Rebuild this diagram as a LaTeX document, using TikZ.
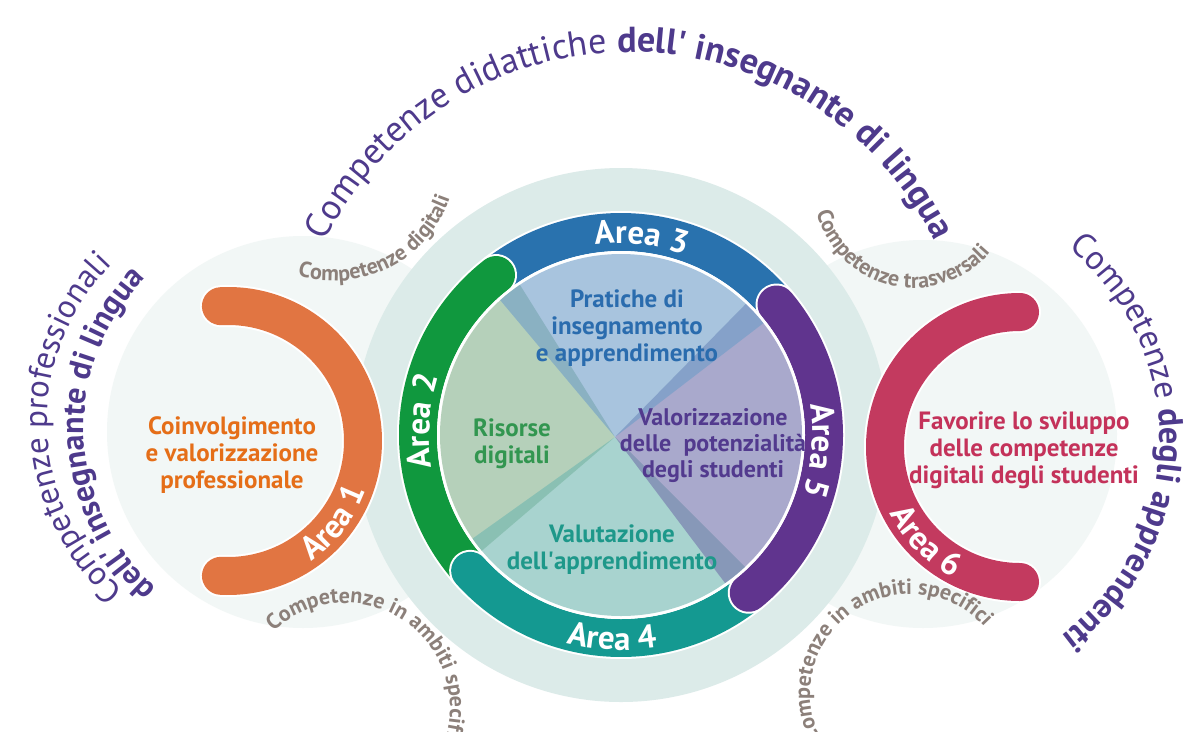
\documentclass[tikz,border=0pt]{standalone}
\usepackage{fontspec}
\setmainfont{PT Sans}
\usetikzlibrary{decorations.text}

\definecolor{ink}{RGB}{78,58,140}
\definecolor{greyl}{RGB}{140,128,122}
\definecolor{cOrange}{RGB}{225,117,66}
\definecolor{tOrange}{RGB}{229,110,24}
\definecolor{cGreen}{RGB}{16,152,62}
\definecolor{tGreen}{RGB}{50,150,80}
\definecolor{cBlue}{RGB}{41,114,174}
\definecolor{tBlue}{RGB}{42,108,174}
\definecolor{cTeal}{RGB}{20,153,145}
\definecolor{tTeal}{RGB}{30,152,138}
\definecolor{cPurple}{RGB}{96,52,142}
\definecolor{tPurple}{RGB}{82,58,142}
\definecolor{cPink}{RGB}{195,58,95}
\definecolor{tPink}{RGB}{196,50,90}
\definecolor{pale}{RGB}{242,247,246}
\definecolor{halo}{RGB}{220,235,233}
\definecolor{qBlue}{RGB}{110,157,200}
\definecolor{qGreen}{RGB}{132,177,140}
\definecolor{qTeal}{RGB}{110,182,175}
\definecolor{qLav}{RGB}{113,113,170}

\newcommand\FTop{\fontsize{36}{36}\selectfont\color{ink}}
\newcommand\FTopB{\fontsize{36}{36}\selectfont\bfseries\color{ink}}
\newcommand\FSide{\fontsize{33}{33}\selectfont\color{ink}}
\newcommand\FSideB{\fontsize{32}{32}\selectfont\bfseries\color{ink}}
\newcommand\FRight{\fontsize{34}{34}\selectfont\color{ink}}
\newcommand\FRightB{\fontsize{34}{34}\selectfont\bfseries\color{ink}}
\newcommand\FGrey{\fontsize{22}{22}\selectfont\bfseries\color{greyl}}
\newcommand\FArea{\fontsize{33}{33}\selectfont\bfseries\color{white}}

\tikzset{
  arcw/.style={white, line width=42pt},
  arcc/.style={line width=38pt},
  inner/.style={align=center, font=\fontsize{25}{27}\selectfont\bfseries},
  wedge/.style={fill opacity=0.6},
}

\begin{document}
\begin{tikzpicture}[x=1pt,y=1pt]
\useasboundingbox (0,-731) rectangle (1188,0);
\fill[white] (0,-731) rectangle (1188,0);

\coordinate (C) at (621,-435);
\coordinate (X) at (615,-437);
\coordinate (LC) at (303,-432);
\coordinate (RC) at (923,-434);
\coordinate (OC) at (228,-441);
\coordinate (PC) at (1020,-447);
\coordinate (TC) at (630,-392);
\coordinate (SL) at (270,-422);
\coordinate (SLi) at (297,-428);
\coordinate (SR) at (915,-439);
\coordinate (G1) at (333.5,-158);
\coordinate (G2) at (345,-708);
\coordinate (G3) at (913.6,-188);
\coordinate (G4) at (910,-694);

% background circles
\fill[pale] (LC) circle[radius=196pt];
\fill[pale] (RC) circle[radius=194pt];
\fill[halo] (C) circle[radius=267pt];

% side arcs
\draw[arcw, line cap=round] (OC) ++(93:135pt) arc[start angle=93, end angle=-93, radius=135pt];
\draw[arcc, cOrange, line cap=round] (OC) ++(93:135pt) arc[start angle=93, end angle=-93, radius=135pt];
\draw[arcw, line cap=round] (PC) ++(90:135pt) arc[start angle=90, end angle=270, radius=135pt];
\draw[arcc, cPink, line cap=round] (PC) ++(90:135pt) arc[start angle=90, end angle=270, radius=135pt];

% ring
\draw[arcw] (C) ++(128:203pt) arc[start angle=128, end angle=40, radius=203pt];
\draw[arcc, cBlue] (C) ++(128:203pt) arc[start angle=128, end angle=40, radius=203pt];
\draw[arcw, line cap=round] (C) ++(128:203pt) arc[start angle=128, end angle=226, radius=203pt];
\draw[arcc, cGreen, line cap=round] (C) ++(128:203pt) arc[start angle=128, end angle=226, radius=203pt];
\draw[arcw, line cap=round] (C) ++(222:203pt) arc[start angle=222, end angle=309, radius=203pt];
\draw[arcc, cTeal, line cap=round] (C) ++(222:203pt) arc[start angle=222, end angle=309, radius=203pt];
\draw[arcw, line cap=round] (C) ++(40:203pt) arc[start angle=40, end angle=-51, radius=203pt];
\draw[arcc, cPurple, line cap=round] (C) ++(40:203pt) arc[start angle=40, end angle=-51, radius=203pt];

% inner disc
\fill[white] (C) circle[radius=184pt];
\begin{scope}
\clip (C) circle[radius=181pt];
\fill[qGreen, wedge] (X) -- ++(122:300pt) arc[start angle=122, end angle=220.5, radius=300pt] -- cycle;
\fill[qTeal, wedge] (X) -- ++(215.5:300pt) arc[start angle=215.5, end angle=315, radius=300pt] -- cycle;
\fill[qLav, wedge] (X) -- ++(307:300pt) arc[start angle=307, end angle=405.5, radius=300pt] -- cycle;
\fill[qBlue, wedge] (X) -- ++(37.5:300pt) arc[start angle=37.5, end angle=130, radius=300pt] -- cycle;
\end{scope}

% inner texts
\node[inner, text=tBlue] (t3) at (627,-328) {Pratiche di\\insegnamento\\e apprendimento};
\node[inner, text=tGreen] (t2) at (512,-444) {Risorse\\digitali};
\node[inner, text=tPurple, font=\fontsize{24}{26}\selectfont\bfseries] (t5) at (713,-446) {Valorizzazione\\delle\ \ potenzialità\\degli studenti};
\node[inner, text=tTeal] (t4) at (612,-550) {Valutazione\\dell\textquotesingle apprendimento};
\node[inner, text=tOrange] (t1) at (232,-455) {Coinvolgimento\\e valorizzazione\\professionale};
\node[inner, text=tPink] (t6) at (1024,-450) {Favorire lo sviluppo\\delle competenze\\digitali degli studenti};

% area labels
\path[decorate, decoration={text along path, text align=center, text={|\FArea|Area 1}}]
  (OC) ++(-80:146.5pt) arc[start angle=-80, end angle=5, radius=146.5pt];
\path[decorate, decoration={text along path, text align=center, text={|\FArea|Area 2}}]
  (C) ++(216:191.5pt) arc[start angle=216, end angle=136, radius=191.5pt];
\path[decorate, decoration={text along path, text align=center, text={|\FArea|Area 3}}]
  (C) ++(124:191.5pt) arc[start angle=124, end angle=44, radius=191.5pt];
\path[decorate, decoration={text along path, text align=center, text={|\FArea|Area 4}}]
  (C) ++(227.5:215pt) arc[start angle=227.5, end angle=307.5, radius=215pt];
\path[decorate, decoration={text along path, text align=center, text={|\FArea|Area 5}}]
  (C) ++(35.5:191.5pt) arc[start angle=35.5, end angle=-44.5, radius=191.5pt];
\path[decorate, decoration={text along path, text align=center, text={|\FArea|Area 6}}]
  (PC) ++(185:146.5pt) arc[start angle=185, end angle=265, radius=146.5pt];

% grey labels
\path[decorate, decoration={text along path, text align=center, text={|\FGrey|Competenze digitali}}]
  (G1) ++(-128:123pt) arc[start angle=-128, end angle=2, radius=123pt];
\path[decorate, decoration={text along path, text align=left, text={|\FGrey|Competenze in ambiti specifici}}]
  (G2) ++(133:105pt) arc[start angle=133, end angle=-70, radius=105pt];
\path[decorate, decoration={text along path, text align=center, text={|\FGrey|Competenze trasversali}}]
  (G3) ++(180:100pt) arc[start angle=180, end angle=334, radius=100pt];
\path[decorate, decoration={text along path, text align=right, text={|\FGrey|Competenze in ambiti specifici}}]
  (G4) ++(240:100pt) arc[start angle=240, end angle=42, radius=100pt];

% outer labels
\path[decorate, decoration={text along path, text align=center, text={|\FTop|Competenze didattiche |\FTopB|dell{\textquotesingle} insegnante di lingua}}]
  (TC) ++(175:340pt) arc[start angle=175, end angle=5, radius=340pt];
\path[decorate, decoration={text along path, text align=center, text={|\FSide|Competenze professionali}}]
  (SL) ++(240:223pt) arc[start angle=240, end angle=124, radius=223pt];
\path[decorate, decoration={text along path, text align=center, text={|\FSideB|dell{\textquotesingle} insegnante di lingua}}]
  (SLi) ++(240:213pt) arc[start angle=240, end angle=124, radius=213pt];
\path[decorate, decoration={text along path, text align=center, text={|\FRight|Competenze |\FRightB|degli apprendenti}}]
  (SR) ++(85:245pt) arc[start angle=85, end angle=-87, radius=245pt];
\end{tikzpicture}
\end{document}
